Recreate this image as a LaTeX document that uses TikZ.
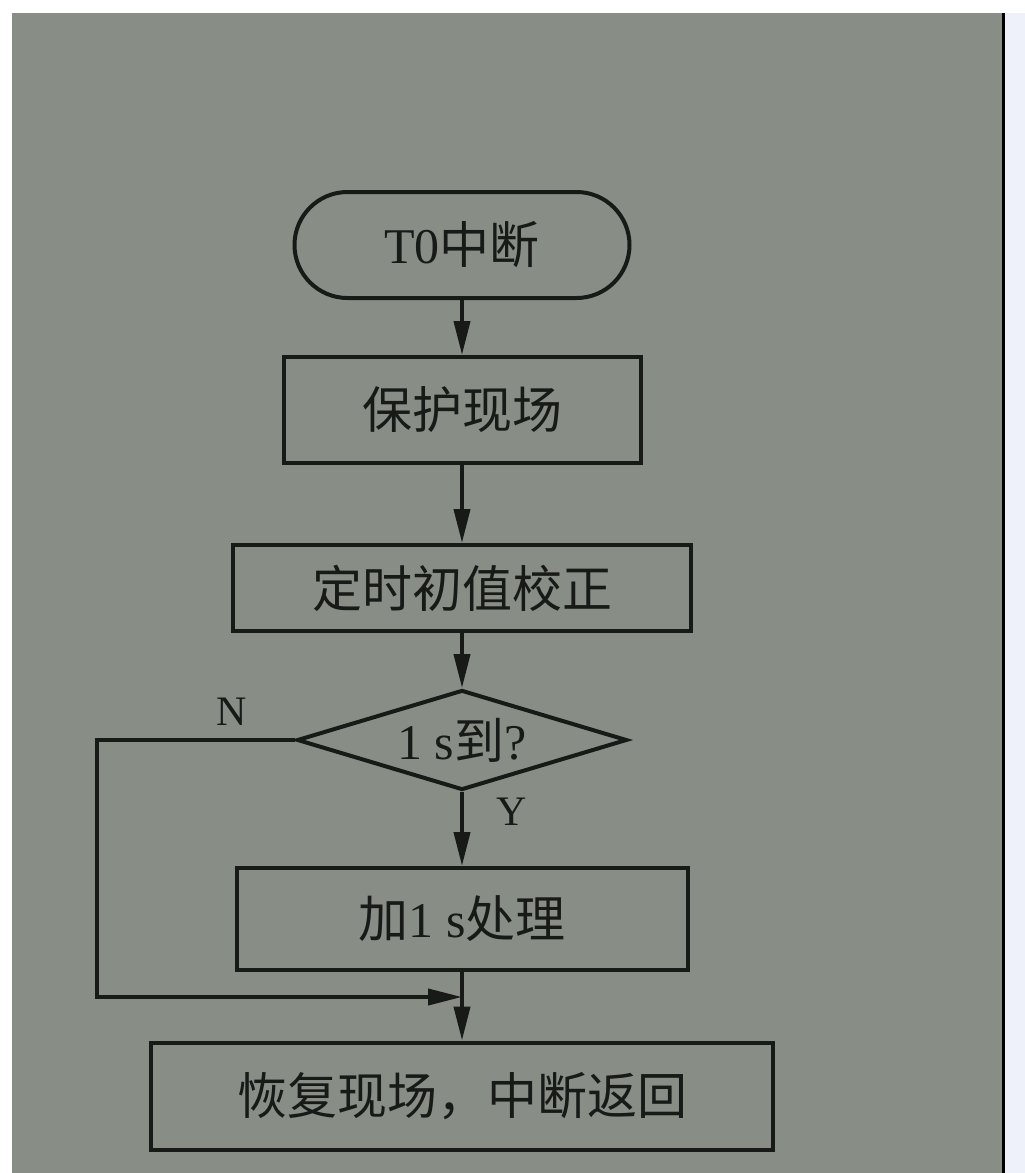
\documentclass[tikz,border=0pt]{standalone}
\usepackage{fontspec}
\setmainfont{Liberation Serif}
\newfontfamily\cjk{Noto Sans CJK SC}
\usetikzlibrary{shapes.geometric,arrows.meta}
\definecolor{paper}{RGB}{136,141,134}
\definecolor{ink}{RGB}{24,26,24}
\definecolor{side}{RGB}{238,240,250}
\tikzset{
  every node/.style={font=\fontsize{50pt}{54pt}\selectfont, text=ink},
  blk/.style={draw=ink, line width=4pt, rectangle, inner sep=0pt},
  term/.style={draw=ink, line width=4pt, rectangle, rounded corners=53pt, inner sep=0pt, minimum width=335pt, minimum height=106pt},
  dec/.style={draw=ink, line width=4pt, diamond, aspect=3.3, inner sep=0pt, minimum width=330pt, minimum height=100pt},
  arr/.style={draw=ink, line width=4pt, -{Triangle[length=34pt,width=16pt]}},
  lbl/.style={font=\fontsize{42pt}{46pt}\selectfont}
}
\begin{document}
\begin{tikzpicture}[x=1pt,y=-1pt]
\useasboundingbox (0,0) rectangle (1025,1173);
\fill[white] (0,0) rectangle (1025,1173);
\fill[side] (1003,13) rectangle (1025,1173);
\fill[paper] (12,13) rectangle (1003,1173);
\fill[black] (1002,13) rectangle (1005,1173);

\node[term] (t0) at (462,245) {T0{\cjk 中断}};
\node[blk, minimum width=357pt, minimum height=106pt] (b1) at (462,410) {\cjk 保护现场};
\node[blk, minimum width=458pt, minimum height=86pt] (b2) at (462,588) {\cjk 定时初值校正};
\node[dec] (d1) at (462,740) {1 s{\cjk 到}?};
\node[blk, minimum width=451pt, minimum height=102pt] (b3) at (462,919) {{\cjk 加}1 s{\cjk 处理}};
\node[blk, minimum width=622pt, minimum height=107pt] (b4) at (462,1096) {\cjk 恢复现场，中断返回};

\node[lbl] (ln) at (232,712) {N};
\node[lbl] (ly) at (512,812) {Y};

\coordinate (join) at (462,997);
\coordinate (corner) at (97,740);

\draw[arr] (t0.south) -- (b1.north);
\draw[arr] (b1.south) -- (b2.north);
\draw[arr] (b2.south) -- (d1.north);
\draw[arr] (d1.south) -- (b3.north);
\draw[arr] (b3.south) -- (b4.north);
\draw[arr] (d1.west) -- (corner) |- (join);
\end{tikzpicture}
\end{document}
